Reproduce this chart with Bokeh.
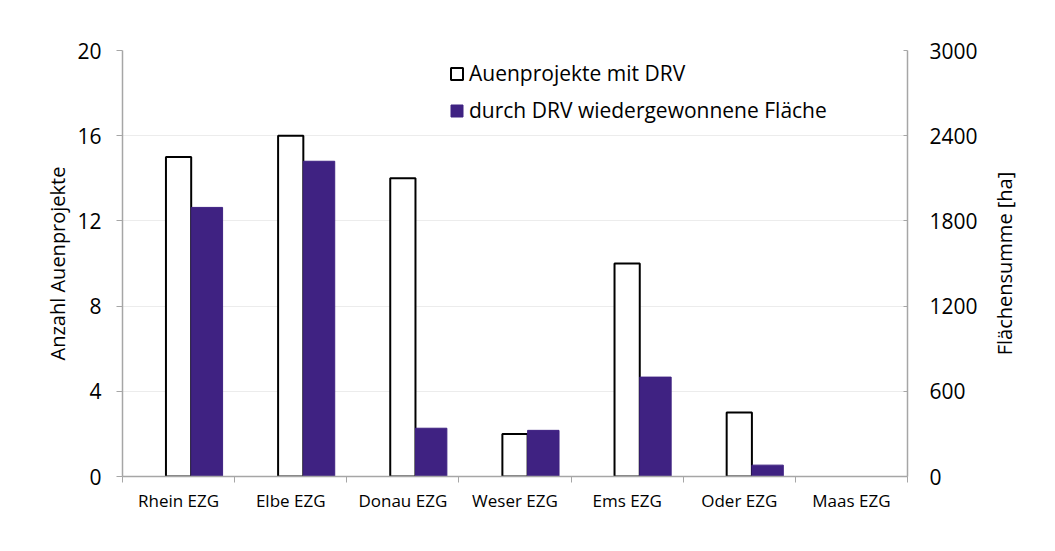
import math
from bokeh.plotting import figure
from bokeh.layouts import row
from bokeh.core.properties import value
from bokeh.models import (ColumnDataSource, Range1d, LinearAxis, FixedTicker,
                          Legend, LegendItem, Grid)
from bokeh.embed import file_html
from bokeh.resources import INLINE

categories = ["Rhein EZG", "Elbe EZG", "Donau EZG", "Weser EZG", "Ems EZG", "Oder EZG", "Maas EZG"]
projekte = [15, 16, 14, 2, 10, 3, 0]
flaeche_ha = [1895, 2220, 340, 325, 700, 80, 0]
left_ticks = [0, 4, 8, 12, 16, 20]
right_ticks = [0, 600, 1200, 1800, 2400, 3000]
right_title = "Flächensumme [ha]"

FONT = "Open Sans"
PURPLE = "#3f2282"
AXC = "#a6a6a6"

centers = [i + 0.5 for i in range(len(categories))]
src = ColumnDataSource(dict(
    x_white=centers,
    x_purple=[c + 0.2525 for c in centers],
    projekte=projekte,
    flaeche=flaeche_ha,
    wa=[1 if v > 0 else 0 for v in projekte],
    pa=[1 if v > 0 else 0 for v in flaeche_ha],
))

p = figure(frame_width=785, frame_height=426, output_backend="svg",
           toolbar_location=None, x_range=Range1d(0, len(categories)),
           y_range=Range1d(0, 20), min_border_left=122, min_border_top=50,
           min_border_right=80, min_border_bottom=55, x_axis_type=None,
           y_axis_type=None)
p.outline_line_color = None
p.extra_y_ranges = {"right": Range1d(0, 3000)}

white = p.vbar(x="x_white", top="projekte", width=0.225, source=src,
               fill_color="white", line_color="black", line_width=2,
               line_alpha="wa")
purple = p.vbar(x="x_purple", top="flaeche", width=0.28, source=src,
                y_range_name="right", fill_color=PURPLE, line_color=PURPLE,
                line_width=1, line_alpha="pa")

# x axis
xax = LinearAxis(ticker=FixedTicker(ticks=centers, minor_ticks=list(range(len(categories) + 1))))
xax.major_label_overrides = {c: name for c, name in zip(centers, categories)}
xax.major_tick_line_color = None
xax.minor_tick_line_color = AXC
xax.minor_tick_out = 6
xax.minor_tick_in = 0
xax.axis_line_color = AXC
xax.axis_line_width = 1.5
xax.major_label_text_font = FONT
xax.major_label_text_font_size = "17px"
xax.major_label_text_color = "black"
xax.major_label_standoff = 6
p.add_layout(xax, "below")

# left axis
yax = LinearAxis(ticker=FixedTicker(ticks=left_ticks, minor_ticks=[]),
                 axis_label="Anzahl Auenprojekte")
yax.axis_line_color = AXC
yax.axis_line_width = 1.5
yax.major_tick_line_color = AXC
yax.major_tick_out = 6
yax.major_tick_in = 0
yax.major_label_text_font = FONT
yax.major_label_text_font_size = "21px"
yax.major_label_text_color = "black"
yax.major_label_standoff = 15
yax.axis_label_text_font = FONT
yax.axis_label_text_font_size = "20px"
yax.axis_label_text_font_style = "normal"
yax.axis_label_text_color = "black"
yax.axis_label_standoff = 3
p.add_layout(yax, "left")

# right axis
rax = LinearAxis(y_range_name="right",
                 ticker=FixedTicker(ticks=right_ticks, minor_ticks=[]))
rax.axis_line_color = AXC
rax.axis_line_width = 1.5
rax.major_tick_line_color = AXC
rax.major_tick_out = 0
rax.major_tick_in = 4
rax.major_label_text_font = FONT
rax.major_label_text_font_size = "21px"
rax.major_label_text_color = "black"
rax.major_label_standoff = 22
p.add_layout(rax, "right")

# grid
g = Grid(dimension=1, ticker=FixedTicker(ticks=left_ticks[1:]))
g.grid_line_color = "#ececec"
g.grid_line_width = 1
p.add_layout(g)

legend = Legend(items=[LegendItem(label="Auenprojekte mit DRV", renderers=[white]),
                       LegendItem(label="durch DRV wiedergewonnene Fläche", renderers=[purple])],
                location=(327, 352))
legend.background_fill_alpha = 0
legend.border_line_color = None
legend.padding = 0
legend.margin = 0
legend.glyph_width = 15
legend.glyph_height = 15
legend.label_height = 20
legend.label_standoff = 5
legend.spacing = 9
legend.label_text_font = FONT
legend.label_text_font_size = "21px"
legend.label_text_color = "black"
p.add_layout(legend, "center")

# narrow companion panel holding the right-axis title (reads bottom-to-top)
p2 = figure(frame_width=50, frame_height=426, output_backend="svg",
            toolbar_location=None, x_range=Range1d(0, 50),
            y_range=Range1d(0, 3000), min_border_left=0, min_border_right=0,
            min_border_top=50, min_border_bottom=55, x_axis_type=None,
            y_axis_type=None)
p2.outline_line_color = None
p2.xgrid.visible = False
p2.ygrid.visible = False
p2.text(x=[17], y=[1500], text=[right_title], angle=math.pi / 2,
        text_align="center", text_baseline="middle",
        text_font=value(FONT), text_font_size="20px", text_color="black")

open("out.html", "w").write(file_html(row(p, p2, spacing=0), INLINE))
